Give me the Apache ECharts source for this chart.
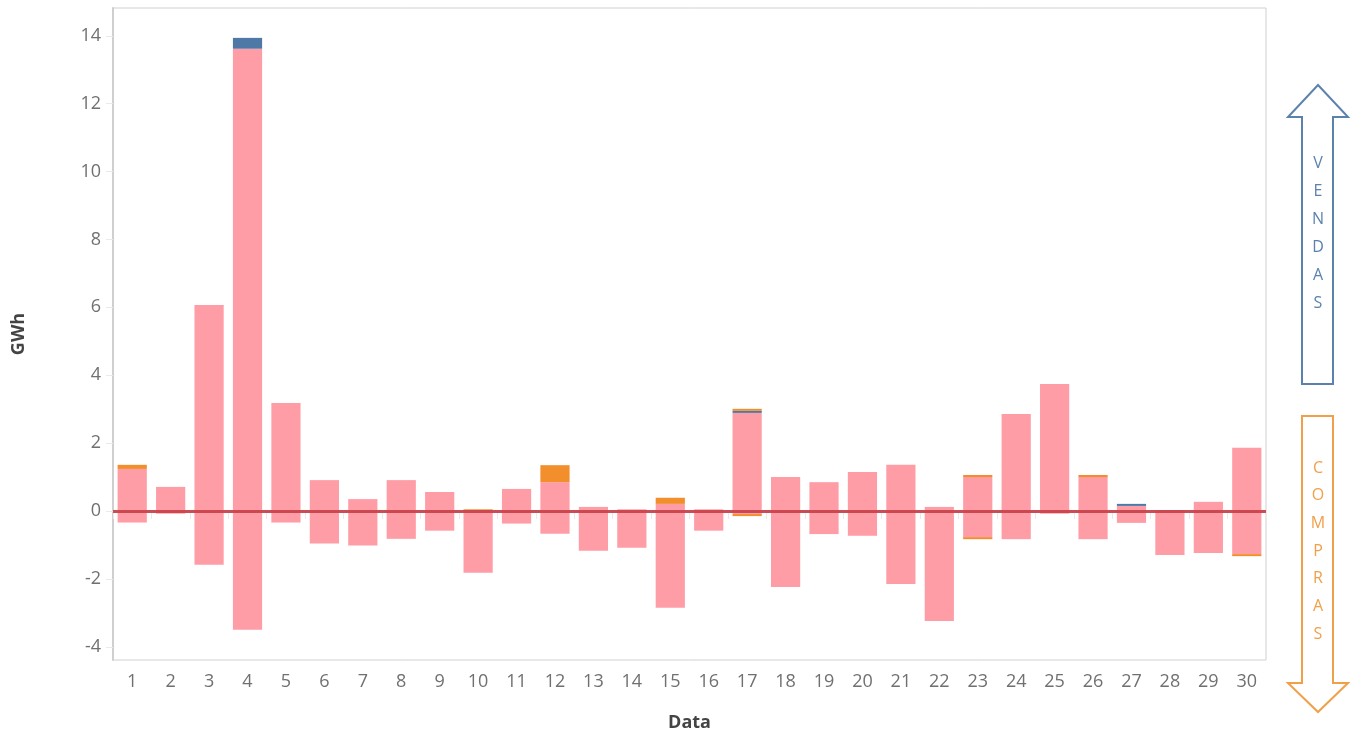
<!DOCTYPE html>
<html><head><meta charset="utf-8">
<script src="https://cdn.jsdelivr.net/npm/echarts@6/dist/echarts.min.js"></script>
<style>html,body{margin:0;padding:0;background:#fff;}#c{width:1358px;height:735px;}</style>
</head><body><div id="c"></div>
<script>
var categories = ['1','2','3','4','5','6','7','8','9','10','11','12','13','14','15','16','17','18','19','20','21','22','23','24','25','26','27','28','29','30'];
var pinkPos = [1.24,0.71,6.07,13.62,3.18,0.91,0.35,0.91,0.56,0,0.65,0.85,0.12,0.05,0.21,0.05,2.89,1.00,0.85,1.15,1.36,0.12,1.00,2.86,3.74,1.00,0.15,0.03,0.27,1.86];
var pinkNeg = [-0.34,-0.08,-1.58,-3.50,-0.34,-0.96,-1.02,-0.82,-0.58,-1.82,-0.37,-0.67,-1.17,-1.08,-2.85,-0.58,-0.09,-2.24,-0.68,-0.73,-2.15,-3.24,-0.77,-0.83,-0.08,-0.83,-0.35,-1.30,-1.24,-1.27];
var bluePos = [0,0,0,0.32,0,0,0,0,0,0,0,0,0,0,0,0,0.06,0,0,0,0,0,0,0,0,0,0.06,0,0,0];
var orangePos = [0.12,0,0,0,0,0,0,0,0,0.05,0,0.50,0,0,0.18,0,0.06,0,0,0,0,0,0.06,0,0,0.06,0,0,0,0];
var orangeNeg = [0,0,0,0,0,0,0,0,0,0,0,0,0,0,0,0,-0.06,0,0,0,0,0,-0.06,0,0,0,0,0,0,-0.06];
var yTicks = [-4,-2,0,2,4,6,8,10,12,14];

var PINK = '#ff9da7', BLUE = '#4e79a7', ORANGE = '#f28e2b';
var chart = echarts.init(document.getElementById('c'));
function bar(name, data, color) {
  return {name: name, type: 'bar', stack: 'total', stackStrategy: 'samesign', data: data,
    barCategoryGap: '24%', itemStyle: {color: color}, emphasis: {disabled: true}};
}
var s1 = bar('pinkPos', pinkPos, PINK);
s1.markLine = {silent: true, symbol: ['none','none'], label: {show: false},
  lineStyle: {color: '#c8434c', width: 3, type: 'solid', opacity: 0.95}, data: [{yAxis: 0}]};
var arrowUp = [[1318,85],[1348,117],[1333,117],[1333,384],[1302,384],[1302,117],[1288,117]];
var arrowDown = [[1302,416],[1333,416],[1333,683],[1348,683],[1318,712],[1288,683],[1302,683]];
var vend = 'VENDAS'.split(''), comp = 'COMPRAS'.split('');
var graphics = [
  {type: 'polygon', shape: {points: arrowUp}, style: {fill: '#fff', stroke: '#5b82ad', lineWidth: 2}},
  {type: 'polygon', shape: {points: arrowDown}, style: {fill: '#fff', stroke: '#f0a048', lineWidth: 2}}
];
vend.forEach(function (ch, i) {
  graphics.push({type: 'text', x: 1318, y: 163 + i * 28, style: {text: ch, fill: '#5b82ad', font: '16px "Open Sans"', align: 'center', verticalAlign: 'middle'}});
});
comp.forEach(function (ch, i) {
  graphics.push({type: 'text', x: 1318, y: 468 + i * 27.7, style: {text: ch, fill: '#f0a048', font: '16px "Open Sans"', align: 'center', verticalAlign: 'middle'}});
});
chart.setOption({
  animation: false,
  grid: {left: 113, right: 92, top: 8, bottom: 75, show: true, borderColor: '#d0d0d0', borderWidth: 1,
    containLabel: false, outerBoundsMode: 'none'},
  xAxis: {type: 'category', data: categories,
    name: 'Data', nameLocation: 'middle', nameGap: 54,
    nameTextStyle: {fontFamily: 'Open Sans', fontWeight: 'bold', fontSize: 18, color: '#444'},
    axisLine: {lineStyle: {color: '#cfcfcf', width: 1}},
    axisTick: {show: true, length: 8, lineStyle: {color: '#eaeaea'}},
    axisLabel: {fontFamily: 'Open Sans', fontSize: 18, color: '#707070', margin: 13},
    splitLine: {show: false}},
  yAxis: {type: 'value', min: -4.39, max: 14.82,
    name: 'GWh', nameLocation: 'middle', nameGap: 85,
    nameTextStyle: {fontFamily: 'Open Sans', fontWeight: 'bold', fontSize: 18, color: '#444'},
    axisLine: {show: true, lineStyle: {color: '#cfcfcf', width: 2}},
    axisTick: {show: true, length: 7, customValues: yTicks, lineStyle: {color: '#eaeaea'}},
    axisLabel: {fontFamily: 'Open Sans', fontSize: 18, color: '#707070', margin: 12, customValues: yTicks},
    splitLine: {show: false}},
  series: [s1, bar('pinkNeg', pinkNeg, PINK), bar('blue', bluePos, BLUE), bar('orangePos', orangePos, ORANGE), bar('orangeNeg', orangeNeg, ORANGE)],
  graphic: graphics
});
</script></body></html>
